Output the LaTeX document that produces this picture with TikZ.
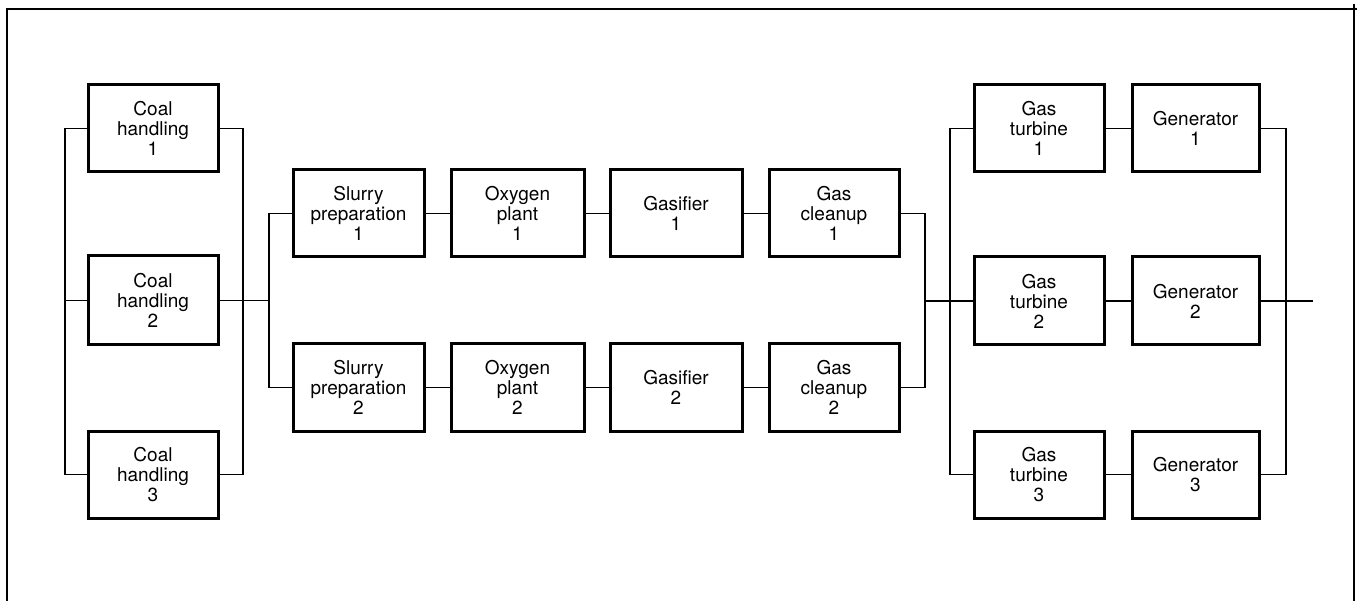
\documentclass[tikz,border=0pt]{standalone}
\usepackage{fontspec}
\setmainfont{TeX Gyre Heros}
\begin{document}
\begin{tikzpicture}[x=1pt,y=-1pt,
  unit/.style={draw=black, line width=3pt, align=center, inner sep=0pt,
    minimum height=87pt, font=\fontsize{19}{20}\selectfont},
  link/.style={line width=1.3pt},
  frameline/.style={line width=1.5pt}]
\useasboundingbox (0,0) rectangle (1360,601);
% frame
\draw[frameline] (7,601) -- (7,9) -- (1357,9);
\draw[frameline] (1354,4) -- (1354,601);
% coal handling
\node[unit, minimum width=130pt] (c1) at (153,128.5) {Coal\\handling\\1};
\node[unit, minimum width=130pt, minimum height=89pt] (c2) at (153,300.5) {Coal\\handling\\2};
\node[unit, minimum width=130pt] (c3) at (153,474.5) {Coal\\handling\\3};
% row units
\node[unit, minimum width=131pt] (s1) at (358.5,213.5) {Slurry\\preparation\\1};
\node[unit, minimum width=131pt] (s2) at (358.5,387.5) {Slurry\\preparation\\2};
\node[unit, minimum width=133pt] (o1) at (517.5,213.5) {Oxygen\\plant\\1};
\node[unit, minimum width=133pt] (o2) at (517.5,387.5) {Oxygen\\plant\\2};
\node[unit, minimum width=132pt] (g1) at (676,213.5) {Gasifier\\1};
\node[unit, minimum width=132pt] (g2) at (676,387.5) {Gasifier\\2};
\node[unit, minimum width=130pt] (k1) at (834,213.5) {Gas\\cleanup\\1};
\node[unit, minimum width=130pt] (k2) at (834,387.5) {Gas\\cleanup\\2};
% turbines and generators
\node[unit, minimum width=130pt] (t1) at (1039,128.5) {Gas\\turbine\\1};
\node[unit, minimum width=130pt, minimum height=88pt] (t2) at (1039,301) {Gas\\turbine\\2};
\node[unit, minimum width=130pt] (t3) at (1039,474.5) {Gas\\turbine\\3};
\node[unit, minimum width=127pt] (e1) at (1195.5,128.5) {Generator\\1};
\node[unit, minimum width=127pt, minimum height=88pt] (e2) at (1195.5,301) {Generator\\2};
\node[unit, minimum width=127pt] (e3) at (1195.5,474.5) {Generator\\3};
% bus coordinates
\coordinate (lb) at (65,0);
\coordinate (rb) at (243,0);
\coordinate (sb) at (269,0);
\coordinate (kb) at (925,0);
\coordinate (tb) at (950,0);
\coordinate (eb) at (1286,0);
\coordinate (out) at (1313,301);
% coal buses
\draw[link] (c1.west) -- (c1.west -| lb) -- (c3.west -| lb) -- (c3.west);
\draw[link] (c2.west) -- (c2.west -| lb);
\draw[link] (c1.east) -- (c1.east -| rb) -- (c3.east -| rb) -- (c3.east);
\draw[link] (c2.east) -- (c2.east -| sb);
% slurry bus
\draw[link] (s1.west) -- (s1.west -| sb) -- (s2.west -| sb) -- (s2.west);
% chains
\draw[link] (s1.east) -- (o1.west);
\draw[link] (o1.east) -- (g1.west);
\draw[link] (g1.east) -- (k1.west);
\draw[link] (s2.east) -- (o2.west);
\draw[link] (o2.east) -- (g2.west);
\draw[link] (g2.east) -- (k2.west);
% cleanup bus
\draw[link] (k1.east) -- (k1.east -| kb) -- (k2.east -| kb) -- (k2.east);
\draw[link] (t2.west -| kb) -- (t2.west);
% turbine bus
\draw[link] (t1.west) -- (t1.west -| tb) -- (t3.west -| tb) -- (t3.west);
\draw[link] (t1.east) -- (e1.west);
\draw[link] (t2.east) -- (e2.west);
\draw[link] (t3.east) -- (e3.west);
% generator bus
\draw[link] (e1.east) -- (e1.east -| eb) -- (e3.east -| eb) -- (e3.east);
\draw[link] (e2.east) -- (out);
\end{tikzpicture}
\end{document}
